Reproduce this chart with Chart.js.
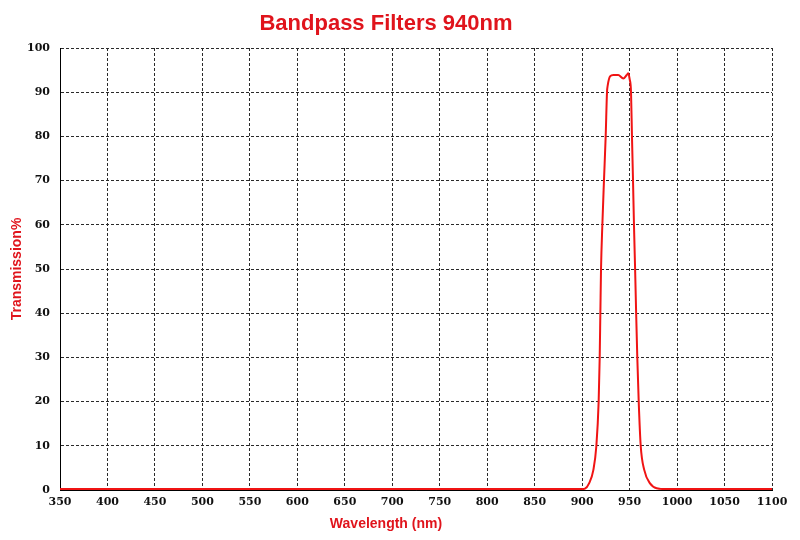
<!DOCTYPE html>
<html>
<head>
<meta charset="utf-8">
<title>Bandpass Filters 940nm</title>
<script src="https://cdn.jsdelivr.net/npm/chart.js"></script>
<style>
  body { margin: 0; background: #ffffff; }
  #lineChart { display: block; }
</style>
</head>
<body>
<canvas id="lineChart" width="800" height="540"></canvas>
<script>
// datos
const wavelengths = [350, 400, 450, 500, 550, 600, 650, 700, 750, 800, 850, 880, 900, 903, 907.3, 911.8, 915, 917.4, 918.5,
    919.2, 919.9, 921.3, 923, 924.8, 926.2, 927, 929.4, 932.9, 938, 943.4, 947, 948.7, 950, 951.5, 952.5, 953.6,
    954.6, 955.8, 956.9, 958.1, 959.6, 961.7, 965.5, 971.5, 978.5, 989, 1000, 1050, 1100];
const transmission = [0.2, 0.2, 0.2, 0.2, 0.2, 0.2, 0.2, 0.2, 0.2, 0.2, 0.2, 0.2, 0.2, 0.3, 1.5, 4.5, 10, 20, 30,
    40, 50, 60, 70, 80, 90, 91.6, 93.6, 93.9, 93.9, 93.1, 93.9, 94.3, 93, 90, 80, 70,
    60, 50, 40, 30, 20, 10, 4.5, 1.5, 0.4, 0.2, 0.2, 0.2, 0.2];

const xTicks = [350, 400, 450, 500, 550, 600, 650, 700, 750, 800, 850, 900, 950, 1000, 1050, 1100];
const yTicks = [0, 10, 20, 30, 40, 50, 60, 70, 80, 90, 100];

const redText = '#e0141c';
const gridColor = '#2a2a2a';

// título del eje X (centrado un poco a la izquierda como en la imagen)
const xCaption = {
    id: 'xCaption',
    afterDraw(chart) {
        const c = chart.ctx;
        const area = chart.chartArea;
        c.save();
        c.fillStyle = redText;
        c.font = 'bold 14px "Liberation Sans", Arial, sans-serif';
        c.textAlign = 'center';
        c.textBaseline = 'middle';
        c.fillText('Wavelength (nm)', (area.left + area.right) / 2 - 30, 524);
        c.restore();
    }
};

const ctx = document.getElementById('lineChart').getContext('2d');
const lineChart = new Chart(ctx, {
    type: 'line',
    data: {
        datasets: [{
            label: 'Transmission',
            data: wavelengths.map((w, i) => ({ x: w, y: transmission[i] })),
            borderColor: '#f01414',
            borderWidth: 2,
            pointRadius: 0,
            fill: false,
            cubicInterpolationMode: 'monotone'
        }]
    },
    options: {
        responsive: false,
        animation: false,
        devicePixelRatio: 1,
        layout: {
            padding: { left: 0, right: 28, top: 0, bottom: 0 }
        },
        plugins: {
            legend: { display: false },
            tooltip: { enabled: false },
            title: {
                display: true,
                text: 'Bandpass Filters 940nm',
                color: redText,
                font: { family: '"Liberation Sans", Arial, sans-serif', size: 22, weight: 'bold', lineHeight: 1.2 },
                padding: { top: 11, bottom: 10.6 }
            }
        },
        scales: {
            x: {
                type: 'linear',
                min: 350,
                max: 1100,
                afterBuildTicks: scale => { scale.ticks = xTicks.map(v => ({ value: v })); },
                afterFit: scale => { scale.height = 50; },
                grid: { color: gridColor, lineWidth: 1, drawTicks: false },
                border: { display: true, color: '#000000', width: 1, dash: [3, 2] },
                ticks: {
                    color: '#111111',
                    padding: 6,
                    maxRotation: 0,
                    autoSkip: false,
                    callback: value => String(value),
                    font: { family: '"DejaVu Serif", serif', size: 11, weight: 'bold' }
                }
            },
            y: {
                min: 0,
                max: 100,
                afterBuildTicks: scale => { scale.ticks = yTicks.map(v => ({ value: v })); },
                afterFit: scale => { scale.width = 60; },
                grid: { color: gridColor, lineWidth: 1, drawTicks: false },
                border: { display: true, color: '#000000', width: 1, dash: [3, 2] },
                ticks: {
                    color: '#111111',
                    padding: 10,
                    autoSkip: false,
                    callback: value => String(value),
                    font: { family: '"DejaVu Serif", serif', size: 11, weight: 'bold' }
                },
                title: {
                    display: true,
                    text: 'Transmission%',
                    color: redText,
                    font: { family: '"Liberation Sans", Arial, sans-serif', size: 14, weight: 'bold' },
                    padding: { top: 9, bottom: 0 }
                }
            }
        }
    },
    plugins: [xCaption]
});
</script>
</body>
</html>
